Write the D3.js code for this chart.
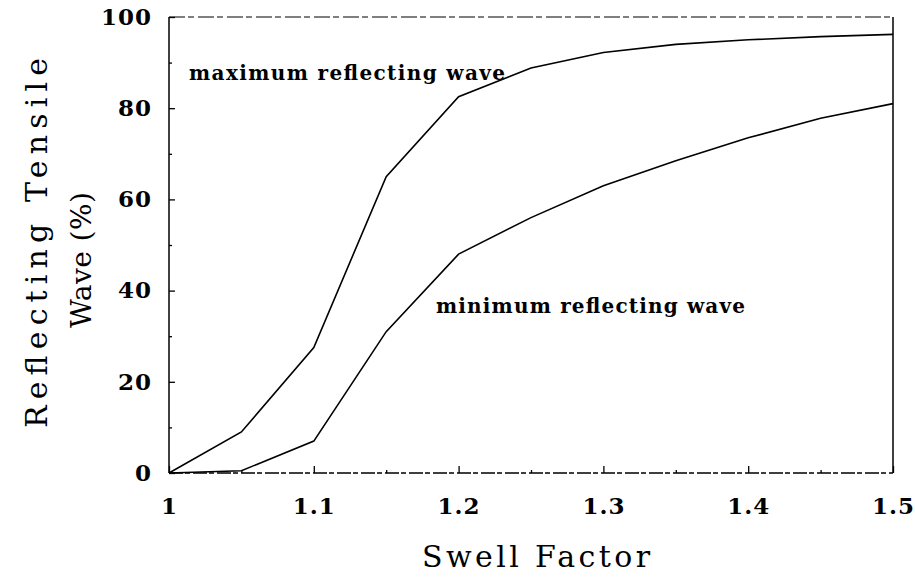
<!DOCTYPE html>
<html>
<head>
<meta charset="utf-8">
<script src="https://cdn.jsdelivr.net/npm/d3@7"></script>
<style>
  body { margin: 0; background: #fff; }
  text { fill: #000; }
</style>
</head>
<body>
<div class="chart"></div>
<script>
// swell factor values, both series share them
var swell = [1, 1.05, 1.1, 1.15, 1.2, 1.25, 1.3, 1.35, 1.4, 1.45, 1.5];
// reflecting tensile wave (%)
var maxWave = [0, 9, 27.5, 65, 82.5, 88.8, 92.2, 94, 95, 95.7, 96.2];
var minWave = [0, 0.5, 7, 31, 48, 56, 63, 68.5, 73.5, 77.8, 81];

var xTicks = [1, 1.1, 1.2, 1.3, 1.4, 1.5];
var xMinor = [1.05, 1.15, 1.25, 1.35, 1.45];
var yTicks = [0, 20, 40, 60, 80, 100];
var yMinor = [10, 30, 50, 70, 90];

var svgWidth = 915;
var svgHeight = 582;

var margin = { top: 17, right: 22, bottom: 109, left: 169 };
var width = svgWidth - margin.left - margin.right;
var height = svgHeight - margin.top - margin.bottom;

var svg = d3.select(".chart")
  .append("svg")
  .attr("width", svgWidth)
  .attr("height", svgHeight);

var chartGroup = svg.append("g")
  .attr("transform", `translate(${margin.left}, ${margin.top})`);

var xScale = d3.scaleLinear().domain([1, 1.5]).range([0, width]);
var yScale = d3.scaleLinear().domain([0, 100]).range([height, 0]);

var serif = "'DejaVu Serif', 'Liberation Serif', serif";

// frame: left/right solid, top/bottom a bit broken like the scan
chartGroup.append("line")
  .attr("x1", 0).attr("x2", 0).attr("y1", 0).attr("y2", height)
  .attr("stroke", "#000").attr("stroke-width", 1.5);
chartGroup.append("line")
  .attr("x1", width).attr("x2", width).attr("y1", 0).attr("y2", height)
  .attr("stroke", "#000").attr("stroke-width", 1.5);
chartGroup.append("line")
  .attr("x1", 0).attr("x2", width).attr("y1", 0).attr("y2", 0)
  .attr("stroke", "#000").attr("stroke-width", 1.2)
  .attr("stroke-dasharray", "16,3,6,4");
chartGroup.append("line")
  .attr("x1", 0).attr("x2", width).attr("y1", height).attr("y2", height)
  .attr("stroke", "#000").attr("stroke-width", 1.3)
  .attr("stroke-dasharray", "14,2,5,3");

// x axis (ticks pointing inward)
var bottomAxis = d3.axisBottom(xScale)
  .tickValues(xTicks)
  .tickSizeInner(-7)
  .tickSizeOuter(0)
  .tickPadding(25)
  .tickFormat(d3.format("~g"));

var xAxis = chartGroup.append("g")
  .attr("transform", `translate(0, ${height})`)
  .call(bottomAxis);

chartGroup.append("g")
  .attr("transform", `translate(0, ${height})`)
  .call(d3.axisBottom(xScale).tickValues(xMinor).tickSizeInner(-3).tickSizeOuter(0).tickFormat(""));

// y axis
var leftAxis = d3.axisLeft(yScale)
  .tickValues(yTicks)
  .tickSizeInner(-6)
  .tickSizeOuter(0)
  .tickPadding(17);

var yAxis = chartGroup.append("g").call(leftAxis);

chartGroup.append("g")
  .call(d3.axisLeft(yScale).tickValues(yMinor).tickSizeInner(-3).tickSizeOuter(0).tickFormat(""));

chartGroup.selectAll(".domain").remove();
chartGroup.selectAll(".tick line").attr("stroke", "#000").attr("stroke-width", 1.3);

xAxis.selectAll(".tick text")
  .attr("font-family", serif)
  .attr("font-weight", "bold")
  .attr("font-size", "23px")
  .attr("letter-spacing", "1px");

yAxis.selectAll(".tick text")
  .attr("font-family", serif)
  .attr("font-weight", "bold")
  .attr("font-size", "23px")
  .attr("letter-spacing", "1px");

// curves
var line = d3.line()
  .x(d => xScale(d[0]))
  .y(d => yScale(d[1]));

chartGroup.append("path")
  .datum(swell.map((s, i) => [s, maxWave[i]]))
  .attr("d", line)
  .attr("fill", "none")
  .attr("stroke", "#000")
  .attr("stroke-width", 1.6);

chartGroup.append("path")
  .datum(swell.map((s, i) => [s, minWave[i]]))
  .attr("d", line)
  .attr("fill", "none")
  .attr("stroke", "#000")
  .attr("stroke-width", 1.6);

// curve labels
svg.append("text")
  .attr("x", 189)
  .attr("y", 80)
  .attr("font-family", serif)
  .attr("font-weight", "bold")
  .attr("font-size", "20px")
  .attr("textLength", 316)
  .attr("lengthAdjust", "spacing")
  .text("maximum reflecting wave");

svg.append("text")
  .attr("x", 436)
  .attr("y", 313)
  .attr("font-family", serif)
  .attr("font-weight", "bold")
  .attr("font-size", "20px")
  .attr("textLength", 309)
  .attr("lengthAdjust", "spacing")
  .text("minimum reflecting wave");

// axis titles
svg.append("text")
  .attr("x", 422)
  .attr("y", 567)
  .attr("font-family", serif)
  .attr("font-size", "30px")
  .attr("textLength", 228)
  .attr("lengthAdjust", "spacing")
  .text("Swell Factor");

svg.append("text")
  .attr("transform", "translate(47, 428) rotate(-90)")
  .attr("font-family", serif)
  .attr("font-size", "30px")
  .attr("textLength", 370)
  .attr("lengthAdjust", "spacing")
  .text("Reflecting Tensile");

svg.append("text")
  .attr("transform", "translate(91, 328) rotate(-90)")
  .attr("font-family", serif)
  .attr("font-size", "28px")
  .attr("textLength", 136)
  .attr("lengthAdjust", "spacing")
  .text("Wave (%)");
</script>
</body>
</html>
